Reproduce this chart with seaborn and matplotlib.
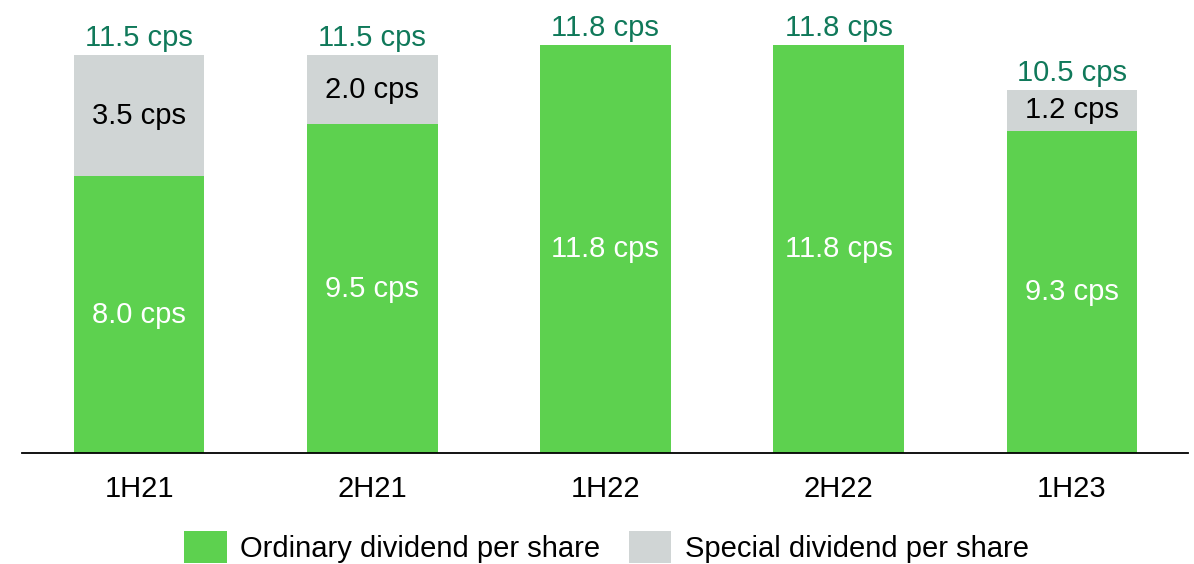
import matplotlib
matplotlib.use("Agg")
import matplotlib.pyplot as plt
import seaborn as sns
import pandas as pd

periods = ["1H21", "2H21", "1H22", "2H22", "1H23"]
ordinary = [8.0, 9.5, 11.8, 11.8, 9.3]
special = [3.5, 2.0, 0.0, 0.0, 1.2]
totals = [11.5, 11.5, 11.8, 11.8, 10.5]

GREEN = "#5dd14f"
GREY = "#d0d5d5"
LABEL_GREEN = "#10795a"

sns.set_theme(style="white")
plt.rcParams["font.family"] = ["Liberation Sans", "DejaVu Sans"]
plt.rcParams["text.color"] = "black"

df = pd.DataFrame({"period": periods, "ordinary": ordinary,
                   "special": special, "total": totals})

fig = plt.figure(figsize=(11.94, 5.64), dpi=100)
ax = fig.add_axes([0.0188, 0.1968, 0.9765, 0.767])

# stacked bars: full total in grey, ordinary portion in green over it
sns.barplot(data=df, x="period", y="total", color=GREY, width=0.56,
            saturation=1, linewidth=0, ax=ax,
            label="Special dividend per share")
sns.barplot(data=df, x="period", y="ordinary", color=GREEN, width=0.56,
            saturation=1, linewidth=0, ax=ax,
            label="Ordinary dividend per share")

fs = 21
for i, (o, s, t) in enumerate(zip(ordinary, special, totals)):
    ax.text(i, o / 2, f"{o:.1f} cps", ha="center", va="center",
            color="white", fontsize=fs)
    if s > 0:
        ax.text(i, o + s / 2, f"{s:.1f} cps", ha="center", va="center",
                color="black", fontsize=fs)
    ax.text(i, t + 0.08, f"{t:.1f} cps", ha="center", va="bottom",
            color=LABEL_GREEN, fontsize=fs)

ax.set_xlim(-0.5, 4.5)
ax.set_ylim(0, 12.5)
ax.set_xlabel("")
ax.set_ylabel("")
ax.set_yticks([])
ax.tick_params(axis="x", length=0, labelsize=fs, pad=16, colors="black")
for side in ["top", "right", "left"]:
    ax.spines[side].set_visible(False)
ax.spines["bottom"].set_color("black")
ax.spines["bottom"].set_linewidth(1.3)

handles, labels = ax.get_legend_handles_labels()
order = [labels.index("Ordinary dividend per share"),
         labels.index("Special dividend per share")]
if ax.get_legend() is not None:
    ax.get_legend().remove()
fig.legend([handles[k] for k in order], [labels[k] for k in order],
           loc="center", bbox_to_anchor=(0.508, 0.03), ncol=2,
           frameon=False, fontsize=fs, labelcolor="black",
           handlelength=1.45, handleheight=1.3,
           handletextpad=0.45, columnspacing=1.0)

fig.savefig("out.png", dpi=100)
